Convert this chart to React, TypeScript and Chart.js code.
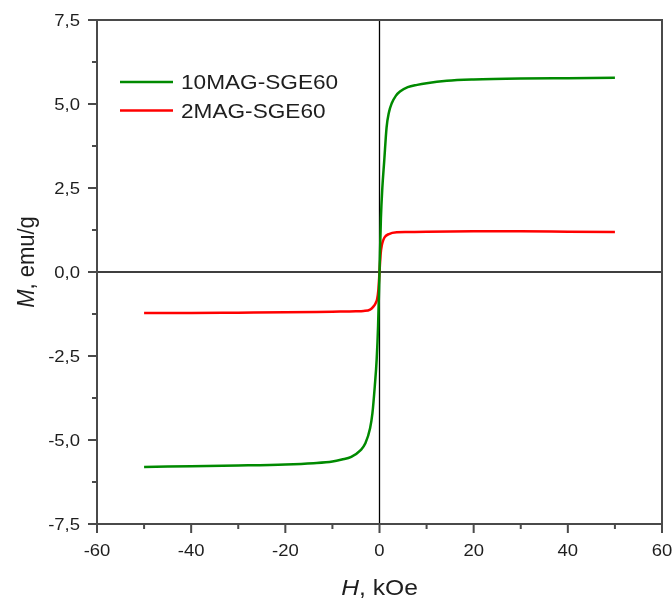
import React, { useEffect, useRef } from "react";
import { Chart, registerables } from "chart.js";

Chart.register(...registerables);

// Series 1: 10MAG-SGE60
const H_GREEN = [-50, -40, -30, -20, -14, -10, -8, -6, -4, -3, -2, -1.5, -1, -0.6, -0.3, 0, 0.3, 0.6, 1, 1.5, 2, 2.6, 3.5, 4.35, 6, 8, 10, 14.3, 20, 30, 40, 50];
const M_GREEN = [-5.8, -5.78, -5.76, -5.73, -5.69, -5.64, -5.58, -5.5, -5.3, -5.1, -4.65, -4.2, -3.4, -2.6, -1.6, 0, 1.6, 2.5, 3.3, 4.3, 4.75, 5.02, 5.25, 5.37, 5.5, 5.57, 5.62, 5.69, 5.73, 5.76, 5.77, 5.78];

// Series 2: 2MAG-SGE60
const H_RED = [-50, -40, -30, -20, -10, -5, -3.4, -2, -1.3, -0.8, -0.5, -0.25, 0, 0.25, 0.5, 0.8, 1.17, 2, 3.65, 6, 10, 20, 30, 40, 50];
const M_RED = [-1.22, -1.22, -1.21, -1.2, -1.18, -1.17, -1.16, -1.12, -1.03, -0.92, -0.8, -0.55, 0, 0.55, 0.8, 0.95, 1.05, 1.13, 1.18, 1.19, 1.2, 1.21, 1.21, 1.2, 1.19];

const SERIES_NAMES = ["10MAG-SGE60", "2MAG-SGE60"];
const SERIES_COLORS = ["#008a00", "#ff0000"];

const X_TICKS = [-60, -40, -20, 0, 20, 40, 60];
const X_TICK_LABELS = ["-60", "-40", "-20", "0", "20", "40", "60"];
const X_MINOR = [-50, -30, -10, 10, 30, 50];
const Y_TICKS = [-7.5, -5, -2.5, 0, 2.5, 5, 7.5];
const Y_TICK_LABELS = ["-7,5", "-5,0", "-2,5", "0,0", "2,5", "5,0", "7,5"];
const Y_MINOR = [-6.25, -3.75, -1.25, 1.25, 3.75, 6.25];

const FONT = '"Liberation Sans", Arial, sans-serif';
const TEXT = "#1e1e1e";

function stretchText(ctx: CanvasRenderingContext2D, text: string, x: number, y: number, sx: number, align: CanvasTextAlign) {
  ctx.save();
  ctx.translate(x, y);
  ctx.scale(sx, 1);
  ctx.textAlign = align;
  ctx.textBaseline = "alphabetic";
  ctx.fillText(text, 0, 0);
  ctx.restore();
}

const decor = {
  id: "decor",
  beforeDatasetsDraw(chart: any) {
    const ctx = chart.ctx as CanvasRenderingContext2D;
    const { left, right, top, bottom } = chart.chartArea;
    const xs = chart.scales.x;
    const ys = chart.scales.y;
    ctx.save();
    ctx.strokeStyle = "#000";
    ctx.lineWidth = 1.3;
    const x0 = xs.getPixelForValue(0);
    const y0 = ys.getPixelForValue(0);
    ctx.beginPath();
    ctx.moveTo(x0, top);
    ctx.lineTo(x0, bottom);
    ctx.moveTo(left, y0);
    ctx.lineTo(right, y0);
    ctx.stroke();
    ctx.restore();
  },
  afterDraw(chart: any) {
    const ctx = chart.ctx as CanvasRenderingContext2D;
    const { left, right, top, bottom } = chart.chartArea;
    const xs = chart.scales.x;
    const ys = chart.scales.y;
    ctx.save();
    // frame
    ctx.strokeStyle = "#4a4a4a";
    ctx.lineWidth = 2;
    ctx.strokeRect(left, top, right - left, bottom - top);
    // ticks
    ctx.beginPath();
    X_TICKS.forEach((v) => {
      const p = xs.getPixelForValue(v);
      ctx.moveTo(p, bottom);
      ctx.lineTo(p, bottom + 9);
    });
    X_MINOR.forEach((v) => {
      const p = xs.getPixelForValue(v);
      ctx.moveTo(p, bottom);
      ctx.lineTo(p, bottom + 5);
    });
    Y_TICKS.forEach((v) => {
      const p = ys.getPixelForValue(v);
      ctx.moveTo(left, p);
      ctx.lineTo(left - 9, p);
    });
    Y_MINOR.forEach((v) => {
      const p = ys.getPixelForValue(v);
      ctx.moveTo(left, p);
      ctx.lineTo(left - 5, p);
    });
    ctx.stroke();

    // tick labels
    ctx.fillStyle = TEXT;
    ctx.font = `16.5px ${FONT}`;
    X_TICKS.forEach((v, i) => {
      stretchText(ctx, X_TICK_LABELS[i], xs.getPixelForValue(v), bottom + 32, 1.12, "center");
    });
    Y_TICKS.forEach((v, i) => {
      stretchText(ctx, Y_TICK_LABELS[i], left - 17, ys.getPixelForValue(v) + 5.8, 1.12, "right");
    });

    // x title: "H, kOe"
    {
      const sx = 1.12;
      ctx.font = `italic 22px ${FONT}`;
      const w1 = ctx.measureText("H").width;
      ctx.font = `22px ${FONT}`;
      const w2 = ctx.measureText(", kOe").width;
      const total = (w1 + w2) * sx;
      const startX = (left + right) / 2 - total / 2;
      ctx.save();
      ctx.translate(startX, 595);
      ctx.scale(sx, 1);
      ctx.textAlign = "left";
      ctx.font = `italic 22px ${FONT}`;
      ctx.fillText("H", 0, 0);
      ctx.font = `22px ${FONT}`;
      ctx.fillText(", kOe", w1, 0);
      ctx.restore();
    }
    // y title: "M, emu/g"
    {
      ctx.font = `italic 22px ${FONT}`;
      const w1 = ctx.measureText("M").width;
      ctx.font = `22px ${FONT}`;
      const w2 = ctx.measureText(", emu/g").width;
      const total = w1 + w2;
      ctx.save();
      ctx.translate(34, 262 + total / 2);
      ctx.rotate(-Math.PI / 2);
      ctx.scale(1, 1.12);
      ctx.textAlign = "left";
      ctx.font = `italic 22px ${FONT}`;
      ctx.fillText("M", 0, 0);
      ctx.font = `22px ${FONT}`;
      ctx.fillText(", emu/g", w1, 0);
      ctx.restore();
    }

    // legend
    ctx.font = `19.5px ${FONT}`;
    chart.data.datasets.forEach((ds: any, i: number) => {
      const y = 82 + i * 28.5;
      ctx.strokeStyle = ds.borderColor;
      ctx.lineWidth = 2.5;
      ctx.beginPath();
      ctx.moveTo(120, y);
      ctx.lineTo(173, y);
      ctx.stroke();
      ctx.fillStyle = TEXT;
      stretchText(ctx, ds.label, 181, y + 7, 1.16, "left");
    });
    ctx.restore();
  },
};

export default function App() {
  const ref = useRef<HTMLCanvasElement | null>(null);
  useEffect(() => {
    if (!ref.current) return;
    const chart = new Chart(ref.current, {
      type: "scatter",
      data: {
        datasets: [
          {
            label: SERIES_NAMES[0],
            data: H_GREEN.map((h, i) => ({ x: h, y: M_GREEN[i] })),
            borderColor: SERIES_COLORS[0],
            backgroundColor: SERIES_COLORS[0],
            showLine: true,
            pointRadius: 0,
            borderWidth: 2.5,
            cubicInterpolationMode: "monotone",
          },
          {
            label: SERIES_NAMES[1],
            data: H_RED.map((h, i) => ({ x: h, y: M_RED[i] })),
            borderColor: SERIES_COLORS[1],
            backgroundColor: SERIES_COLORS[1],
            showLine: true,
            pointRadius: 0,
            borderWidth: 2.5,
            cubicInterpolationMode: "monotone",
          },
        ],
      },
      options: {
        animation: false,
        responsive: false,
        layout: { padding: { top: 20, right: 10, left: 0, bottom: 0 } },
        plugins: { legend: { display: false }, tooltip: { enabled: false } },
        scales: {
          x: {
            type: "linear",
            min: -60,
            max: 60,
            ticks: { display: false },
            grid: { display: false },
            border: { display: false },
            afterFit: (s: any) => {
              s.height = 76;
            },
          },
          y: {
            type: "linear",
            min: -7.5,
            max: 7.5,
            ticks: { display: false },
            grid: { display: false },
            border: { display: false },
            afterFit: (s: any) => {
              s.width = 97;
            },
          },
        },
      },
      plugins: [decor],
    } as any);
    return () => chart.destroy();
  }, []);
  return (
    <div style={{ position: "fixed", left: 0, top: 0, width: 672, height: 600, background: "#fff" }}>
      <canvas ref={ref} width={672} height={600} style={{ width: 672, height: 600, display: "block" }} />
    </div>
  );
}
